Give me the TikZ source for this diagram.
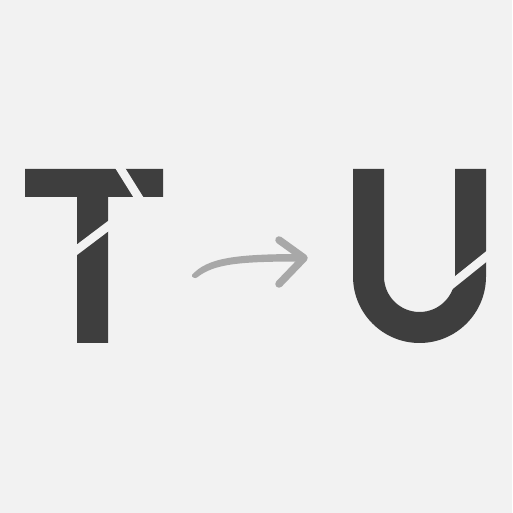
\documentclass[tikz,border=0pt]{standalone}
\usepackage{tikz}
\usetikzlibrary{calc}
\definecolor{sfondo}{RGB}{242,242,242}
\definecolor{lettera}{RGB}{62,62,62}
\definecolor{freccia}{RGB}{168,168,168}
\begin{document}
\begin{tikzpicture}[x=1pt, y=1pt,
    letterfill/.style={fill=lettera},
    cutline/.style={draw=sfondo, line width=8.5pt, line cap=butt},
    arrowline/.style={draw=freccia, line width=7.5pt, line cap=round, line join=round}]
        % Sfondo
        \fill[sfondo] (0,0) rectangle (512,513);
        \useasboundingbox (0,0) rectangle (512,513);

        % Lettera T
        \fill[letterfill] (25,344) -- (163,344) -- (163,316) -- (108,316) -- (108,170)
            -- (77,170) -- (77,316) -- (25,316) -- cycle;
        \draw[cutline] (117,350) -- (142,310);
        \draw[cutline] (72,259.5) -- (113,290.5);

        % Freccia (tratto assottigliato all'inizio)
        \fill[freccia] (192,238) .. controls (207,255) and (235,259) .. (302,259)
            -- (302,251.5) .. controls (238,251.5) and (214,249) .. (197,235.5)
            .. controls (195,234) and (191,236) .. (192,238) -- cycle;
        \draw[arrowline] (279,273) -- (304,255) -- (279,229);

        % Lettera U
        \fill[letterfill] (353,344) -- (353,236.5) arc[start angle=180, end angle=360, radius=66.5]
            -- (486,344) -- (455,344) -- (455,236.5) arc[start angle=0, end angle=-180, radius=35.5]
            -- (384,344) -- cycle;
        \draw[cutline] (449,226.5) -- (492,261);
    \end{tikzpicture}
\end{document}
